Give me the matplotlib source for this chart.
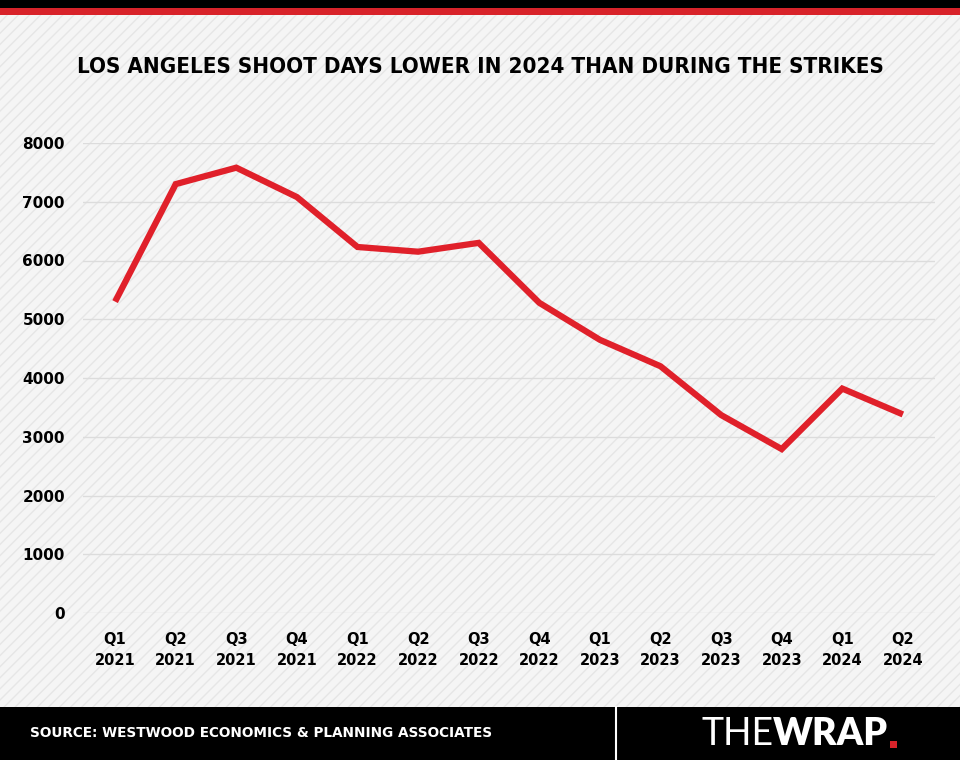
import matplotlib.pyplot as plt
from matplotlib.patches import Rectangle

quarters = ["Q1\n2021", "Q2\n2021", "Q3\n2021", "Q4\n2021",
            "Q1\n2022", "Q2\n2022", "Q3\n2022", "Q4\n2022",
            "Q1\n2023", "Q2\n2023", "Q3\n2023", "Q4\n2023",
            "Q1\n2024", "Q2\n2024"]
shoot_days = [5300, 7300, 7580, 7080, 6230, 6150, 6300, 5280,
              4650, 4200, 3370, 2790, 3820, 3380]
y_ticks = [0, 1000, 2000, 3000, 4000, 5000, 6000, 7000, 8000]

title = "LOS ANGELES SHOOT DAYS LOWER IN 2024 THAN DURING THE STRIKES"
source = "SOURCE: WESTWOOD ECONOMICS & PLANNING ASSOCIATES"

W, H = 960, 760
fig = plt.figure(figsize=(W / 100, H / 100), dpi=100)
fig.patch.set_facecolor("#f5f5f5")

# striped background
bg = Rectangle((0, 0), 1, 1, transform=fig.transFigure, facecolor="#f5f5f5",
               edgecolor="#e6e6e6", hatch="///", linewidth=0, zorder=-10)
fig.patches.append(bg)

# top bars
fig.patches.append(Rectangle((0, 1 - 8 / H), 1, 8 / H, transform=fig.transFigure,
                             facecolor="black", edgecolor="none", zorder=5))
fig.patches.append(Rectangle((0, 1 - 15 / H), 1, 7 / H, transform=fig.transFigure,
                             facecolor="#d8232a", edgecolor="none", zorder=5))

# bottom band
fig.patches.append(Rectangle((0, 0), 1, 53 / H, transform=fig.transFigure,
                             facecolor="black", edgecolor="none", zorder=5))
fig.add_artist(plt.Line2D([616 / W, 616 / W], [0, 53 / H], transform=fig.transFigure,
                          color="white", linewidth=1.5, zorder=6))

fig.text(480 / W, 1 - 67 / H, title, ha="center", va="center",
         family="DejaVu Sans", fontstretch="condensed", fontweight="bold",
         fontsize=16, color="black")

fig.text(30 / W, 1 - 733 / H, source, ha="left", va="center",
         family="DejaVu Sans", fontweight="bold", fontsize=9.8, color="white", zorder=7)

t1 = fig.text(701 / W, 1 - 734 / H, "THE", ha="left", va="center",
              family="Lato", fontweight="normal", fontsize=27, color="white", zorder=7)
fig.canvas.draw()
bb = t1.get_window_extent()
t2 = fig.text(bb.x1 / W, 1 - 734 / H, "WRAP", ha="left", va="center",
              family="Lato", fontweight="heavy", fontsize=27, color="white", zorder=7)
bb2 = t2.get_window_extent()
fig.patches.append(Rectangle((bb2.x1 / W + 0.002, 1 - 748 / H), 7 / W, 7 / H,
                             transform=fig.transFigure, facecolor="#d8232a",
                             edgecolor="none", zorder=7))

ax = fig.add_axes([83 / W, 1 - 613 / H, (935 - 83) / W, (613 - 143) / H])
ax.set_facecolor("none")
x = list(range(len(quarters)))
ax.plot(x, shoot_days, color="#e0202a", linewidth=4.5, solid_joinstyle="miter",
        solid_capstyle="butt", clip_on=False, zorder=3)
ax.set_xlim(-0.53, len(quarters) - 1 + 0.53)
ax.set_ylim(0, 8000)
ax.set_yticks(y_ticks)
ax.set_yticklabels([str(v) for v in y_ticks], family="DejaVu Sans", fontweight="bold",
                   fontsize=11)
ax.set_xticks(x)
ax.set_xticklabels(quarters, family="DejaVu Sans", fontweight="bold", fontsize=10.5,
                   linespacing=1.45)
ax.grid(axis="y", color="#dcdcdc", linewidth=1)
ax.tick_params(axis="both", length=0)
ax.tick_params(axis="y", pad=13)
ax.tick_params(axis="x", pad=14)
for s in ax.spines.values():
    s.set_visible(False)

fig.savefig("out.png", dpi=100, facecolor=fig.get_facecolor())
